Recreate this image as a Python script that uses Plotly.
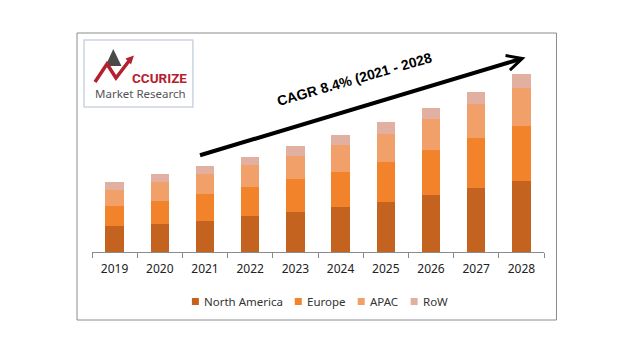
import plotly.graph_objects as go

# ---- data (arbitrary units) ----
years = ["2019", "2020", "2021", "2022", "2023", "2024", "2025", "2026", "2027", "2028"]
north_america = [25.6, 28.3, 31.3, 35.7, 39.7, 44.7, 50.3, 56.7, 63.7, 71.3]
europe = [20.0, 23.0, 26.7, 29.0, 33.0, 35.7, 40.0, 45.0, 50.0, 55.0]
apac = [16.7, 18.3, 19.7, 22.0, 23.0, 26.3, 28.0, 31.0, 34.0, 37.7]
row = [7.7, 8.7, 8.7, 8.7, 10.7, 10.7, 12.0, 11.7, 12.7, 14.3]
series_names = ["North America", "Europe", "APAC", "RoW"]
series_colors = ["#C4621F", "#F2832A", "#F0A068", "#E2B0A0"]
cagr_text = "CAGR 8.4% (2021 - 2028"

# ---- layout geometry (window pixels; the page body adds an 8px offset) ----
OFF = 8
FW, FH = 640 - OFF, 357 - OFF
L, R = 92, 544.5
T, B = 40, 252
W, H = R - L, B - T


def px(x):
    return (x - L) / W


def py(y):
    return (B - y) / H


fig = go.Figure()
for name, vals, col in zip(series_names, [north_america, europe, apac, row], series_colors):
    fig.add_trace(go.Bar(x=years, y=vals, name=name, marker=dict(color=col, line=dict(width=0)),
                         showlegend=False))

shapes = []
annotations = []

# outer frame
shapes.append(dict(type="rect", xref="paper", yref="paper", x0=px(77), x1=px(557), y0=py(33), y1=py(320),
                   line=dict(color="#8C8C8C", width=1), fillcolor="rgba(0,0,0,0)", layer="below"))

# logo box
shapes.append(dict(type="rect", xref="paper", yref="paper", x0=px(84), x1=px(193), y0=py(40), y1=py(107),
                   line=dict(color="#CDD4E0", width=1.5), fillcolor="white", layer="below"))
# logo icon: gray triangle
tri = [(113.3, 49), (105.5, 66), (121.5, 66)]
path = "M " + " L ".join(f"{px(a)},{py(b)}" for a, b in tri) + " Z"
shapes.append(dict(type="path", xref="paper", yref="paper", path=path, fillcolor="#4A4A4A",
                   line=dict(width=0)))
# red strokes
red_pts = [(95, 82), (107, 64), (116, 78), (129, 61)]
path = "M " + " L ".join(f"{px(a)},{py(b)}" for a, b in red_pts)
shapes.append(dict(type="path", xref="paper", yref="paper", path=path,
                   line=dict(color="#B5202E", width=3.5)))
head = [(134, 55.5), (125.5, 58.5), (131, 64.5)]
path = "M " + " L ".join(f"{px(a)},{py(b)}" for a, b in head) + " Z"
shapes.append(dict(type="path", xref="paper", yref="paper", path=path, fillcolor="#B5202E",
                   line=dict(width=0)))

annotations.append(dict(xref="paper", yref="paper", x=px(130), y=py(77.5), xanchor="left", yanchor="middle",
                        text="<b>CCURIZE</b>", showarrow=False,
                        font=dict(family="Liberation Sans Narrow, Roboto, sans-serif", size=13.5,
                                  color="#B5202E")))
annotations.append(dict(xref="paper", yref="paper", x=px(140.5), y=py(93), xanchor="center",
                        yanchor="middle", text="Market Research", showarrow=False,
                        font=dict(family="Noto Sans, sans-serif", size=11.5, color="#555555")))

# CAGR arrow
tip_x, tip_y = 526, 57.5
tail_x, tail_y = 199, 155.7
annotations.append(dict(xref="paper", yref="paper", x=px(tip_x), y=py(tip_y),
                        ax=tail_x - tip_x, ay=tail_y - tip_y, text="", showarrow=True,
                        arrowhead=5, arrowsize=0.75, arrowwidth=4, arrowcolor="black", standoff=0,
                        startstandoff=0))
annotations.append(dict(xref="paper", yref="paper", x=px(355), y=py(78.5), xanchor="center",
                        yanchor="middle", text=f"<b>{cagr_text}</b>", textangle=-16, showarrow=False,
                        font=dict(family="Liberation Sans, Arial, sans-serif", size=14, color="black")))

# custom legend
leg_markers = [192, 295, 358, 411]
leg_y = 301.5
for name, col, mx in zip(series_names, series_colors, leg_markers):
    shapes.append(dict(type="rect", xref="paper", yref="paper", x0=px(mx), x1=px(mx + 7),
                       y0=py(leg_y + 3.5), y1=py(leg_y - 3.5), fillcolor=col, line=dict(width=0)))
    annotations.append(dict(xref="paper", yref="paper", x=px(mx + 10), y=py(leg_y), xanchor="left",
                            yanchor="middle", text=name, showarrow=False,
                            font=dict(family="Noto Sans, sans-serif", size=11.5, color="#333333")))

fig.update_layout(
    width=FW, height=FH,
    margin=dict(l=L - OFF, r=FW - (R - OFF), t=T - OFF, b=FH - (B - OFF), pad=0),
    paper_bgcolor="white", plot_bgcolor="white",
    barmode="stack", bargap=0.59,
    xaxis=dict(type="category", showline=True, linecolor="#8A8A8A", linewidth=1,
               ticks="outside", tickson="boundaries", ticklen=5, tickcolor="#8A8A8A",
               ticklabelstandoff=6,
               showgrid=False, zeroline=False,
               tickfont=dict(family="Noto Sans, sans-serif", size=12, color="#222222")),
    yaxis=dict(range=[0, H], visible=False, showgrid=False, zeroline=False),
    shapes=shapes, annotations=annotations,
    showlegend=False,
)

fig.write_html("out.html")
